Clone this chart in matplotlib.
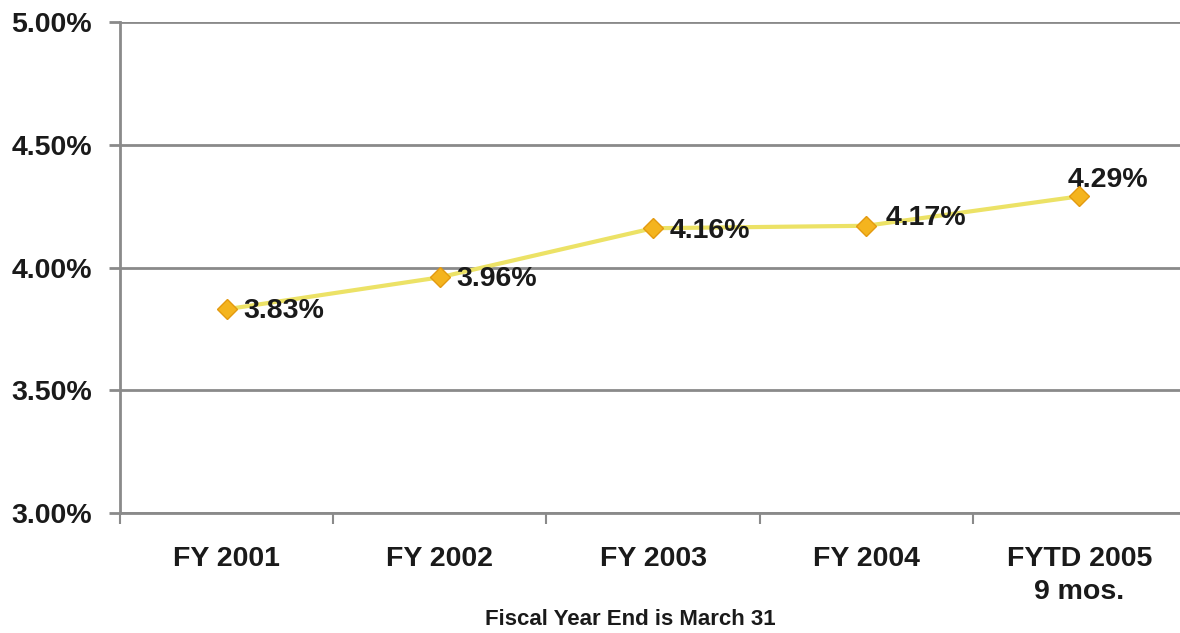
import matplotlib
matplotlib.use('Agg')
import matplotlib.pyplot as plt
from matplotlib.ticker import FixedLocator

# Yield by fiscal year
years = ['FY 2001', 'FY 2002', 'FY 2003', 'FY 2004', 'FYTD 2005\n9 mos.']
rates = [3.83, 3.96, 4.16, 4.17, 4.29]
yticks = [3.00, 3.50, 4.00, 4.50, 5.00]
# label offsets (pixels) from each point
offsets = [(17, -2), (17, -2), (17, -3), (19, 8), (-12, 16)]

plt.rcParams['font.family'] = ['Liberation Sans', 'DejaVu Sans']
plt.rcParams['font.weight'] = 'bold'

f = plt.figure(figsize=(11.8, 6.33), dpi=100)
ax = f.add_axes([0.1017, 0.1896, 0.9034, 0.7756])

x = list(range(len(years)))
ax.plot(x, rates, color='#ECE266', lw=3, zorder=3)
ax.plot(x, rates, ls='none', marker='D', ms=10, mfc='#F4B41E',
        mec='#E39A10', mew=1, zorder=4)

for i, r in enumerate(rates):
    ax.annotate('%.2f%%' % r, (i, r), xytext=offsets[i], textcoords='offset pixels',
                ha='left', va='center', fontsize=20.5, fontweight='bold', color='#1a1a1a')

ax.set_xlim(-0.5, 4.5)
ax.set_ylim(3.0, 5.0)
ax.set_yticks(yticks)
ax.set_yticklabels(['%.2f%%' % v for v in yticks])
ax.yaxis.grid(True, color='#8a8a8a', lw=2)
ax.set_axisbelow(True)

ax.set_xticks(x)
ax.set_xticklabels(years, linespacing=1.35)
ax.xaxis.set_minor_locator(FixedLocator([-0.5, 0.5, 1.5, 2.5, 3.5]))
ax.tick_params(axis='x', which='major', length=0, pad=24, labelsize=20.5, labelcolor='#1a1a1a')
ax.tick_params(axis='x', which='minor', length=8, width=1.5, color='#8a8a8a', direction='out')
ax.tick_params(axis='y', length=8, width=2, color='#8a8a8a', pad=12, labelsize=20.5,
               labelcolor='#1a1a1a')

for s in ['top', 'right']:
    ax.spines[s].set_visible(False)
for s in ['left', 'bottom']:
    ax.spines[s].set_color('#8a8a8a')
    ax.spines[s].set_linewidth(2)

f.text(0.534, 0.005, 'Fiscal Year End is March 31', ha='center', va='bottom',
       fontsize=16, fontweight='bold', color='#1a1a1a')

f.savefig('out.png', dpi=100)
